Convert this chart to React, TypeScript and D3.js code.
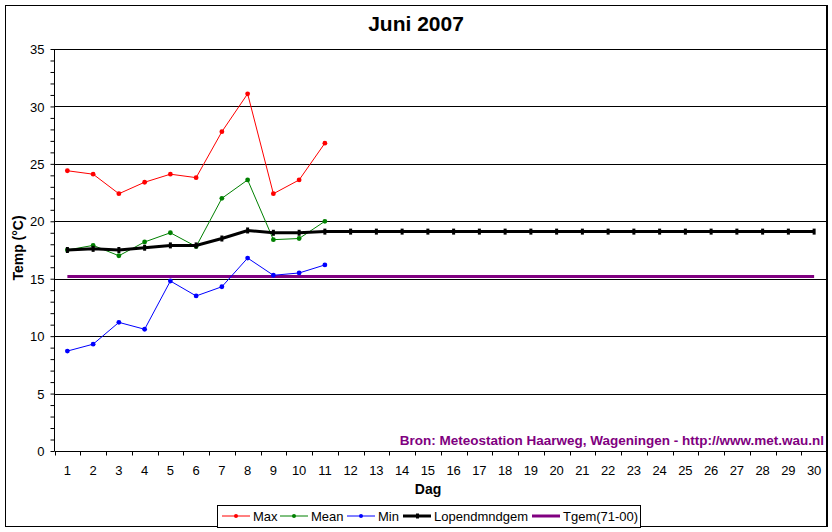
import { useEffect, useRef } from "react"
import * as d3 from "d3"

// Dagen van de maand (x-as)
const days = [
  "1", "2", "3", "4", "5", "6", "7", "8", "9", "10",
  "11", "12", "13", "14", "15", "16", "17", "18", "19", "20",
  "21", "22", "23", "24", "25", "26", "27", "28", "29", "30",
]

const yTicks = [0, 5, 10, 15, 20, 25, 30, 35]

// Gemeten waarden (dag 1 t/m 11)
const maxTemp = [24.4, 24.1, 22.4, 23.4, 24.1, 23.8, 27.8, 31.1, 22.4, 23.6, 26.8]
const meanTemp = [17.5, 17.9, 17.0, 18.2, 19.0, 17.8, 22.0, 23.6, 18.4, 18.5, 20.0]
const minTemp = [8.7, 9.3, 11.2, 10.6, 14.8, 13.5, 14.3, 16.8, 15.3, 15.5, 16.2]

// Lopend maandgemiddelde (hele maand)
const lopendGem = [
  17.5, 17.6, 17.5, 17.7, 17.9, 17.9, 18.5, 19.2, 19.0, 19.0,
  19.1, 19.1, 19.1, 19.1, 19.1, 19.1, 19.1, 19.1, 19.1, 19.1,
  19.1, 19.1, 19.1, 19.1, 19.1, 19.1, 19.1, 19.1, 19.1, 19.1,
]

// Normaal 1971-2000
const tgem = [
  15.2, 15.2, 15.2, 15.2, 15.2, 15.2, 15.2, 15.2, 15.2, 15.2,
  15.2, 15.2, 15.2, 15.2, 15.2, 15.2, 15.2, 15.2, 15.2, 15.2,
  15.2, 15.2, 15.2, 15.2, 15.2, 15.2, 15.2, 15.2, 15.2, 15.2,
]

const series = [
  { name: "Max", values: maxTemp, color: "#ff0000", width: 1, marker: "dot" },
  { name: "Mean", values: meanTemp, color: "#008000", width: 1, marker: "dot" },
  { name: "Min", values: minTemp, color: "#0000ff", width: 1, marker: "dot" },
  { name: "Lopendmndgem", values: lopendGem, color: "#000000", width: 3, marker: "bar" },
  { name: "Tgem(71-00)", values: tgem, color: "#800080", width: 3, marker: "none" },
]

const FONT = "Arial, 'Liberation Sans', sans-serif"

export default function App() {
  const svgRef = useRef<SVGSVGElement>(null)

  useEffect(() => {
    if (!svgRef.current) return
    const root = d3.select(svgRef.current)
    root.selectAll("*").remove()

    const W = 832
    const H = 532
    const plot = { left: 54.5, top: 49, right: 827, bottom: 451 }

    root.append("rect").attr("width", W).attr("height", H).attr("fill", "#ffffff")

    // chart border
    root
      .append("rect")
      .attr("x", 5.5)
      .attr("y", 5.5)
      .attr("width", 821)
      .attr("height", 521)
      .attr("fill", "none")
      .attr("stroke", "#000")
      .attr("stroke-width", 1)

    const x = d3.scaleBand().domain(days).range([plot.left, plot.right]).padding(0)
    const y = d3.scaleLinear().domain([0, 35]).range([plot.bottom, plot.top])

    const g = root.append("g")

    // gridlines
    g.selectAll(".grid")
      .data(yTicks.filter((t) => t > 0))
      .enter()
      .append("line")
      .attr("x1", plot.left)
      .attr("x2", plot.right)
      .attr("y1", (d) => Math.round(y(d)) + 0.5)
      .attr("y2", (d) => Math.round(y(d)) + 0.5)
      .attr("stroke", "#000")
      .attr("stroke-width", 1)

    // right edge of plot area
    g.append("line")
      .attr("x1", plot.right)
      .attr("x2", plot.right)
      .attr("y1", 5)
      .attr("y2", 527)
      .attr("stroke", "#000")
      .attr("stroke-width", 2)

    // y axis
    const yAxis = d3
      .axisLeft(y)
      .tickValues(d3.range(0, 36, 1))
      .tickSize(4)
      .tickFormat((d) => (yTicks.includes(d as number) ? String(d) : ""))
    const ya = g.append("g").attr("transform", `translate(${plot.left},0)`).call(yAxis)
    ya.select(".domain").attr("stroke", "#000").attr("d", `M0,${plot.top}V${plot.bottom}`)
    ya.selectAll(".tick line").attr("stroke", "#000")
    ya.selectAll(".tick text")
      .attr("x", -10)
      .attr("dy", "0.36em")
      .style("font-family", FONT)
      .style("font-size", "13px")
      .attr("fill", "#000")

    // x axis
    const xa = g.append("g").attr("transform", `translate(0,${plot.bottom + 0.5})`)
    xa.append("line")
      .attr("x1", plot.left)
      .attr("x2", plot.right)
      .attr("stroke", "#000")
    xa.selectAll(".xtick")
      .data(days)
      .enter()
      .append("line")
      .attr("x1", (d) => Math.round(x(d) as number) + 0.5)
      .attr("x2", (d) => Math.round(x(d) as number) + 0.5)
      .attr("y1", 0)
      .attr("y2", 4)
      .attr("stroke", "#000")
    xa.selectAll(".xlabel")
      .data(days)
      .enter()
      .append("text")
      .attr("x", (d) => (x(d) as number) + x.bandwidth() / 2)
      .attr("y", 23)
      .attr("text-anchor", "middle")
      .style("font-family", FONT)
      .style("font-size", "13px")
      .text((d) => d)

    const cx = (i: number) => (x(days[i]) as number) + x.bandwidth() / 2

    // series
    const line = d3
      .line<number>()
      .x((_, i) => cx(i))
      .y((d) => y(d))

    const drawOrder = [4, 0, 1, 2, 3]
    drawOrder.forEach((si) => {
      const s = series[si]
      g.append("path")
        .datum(s.values)
        .attr("d", line)
        .attr("fill", "none")
        .attr("stroke", s.color)
        .attr("stroke-width", s.width)
      if (s.marker === "dot") {
        g.selectAll(`.m${si}`)
          .data(s.values)
          .enter()
          .append("circle")
          .attr("cx", (_, i) => cx(i))
          .attr("cy", (d) => y(d))
          .attr("r", 2.4)
          .attr("fill", s.color)
      } else if (s.marker === "bar") {
        g.selectAll(`.m${si}`)
          .data(s.values)
          .enter()
          .append("rect")
          .attr("x", (_, i) => cx(i) - 1.5)
          .attr("y", (d) => y(d) - 3)
          .attr("width", 3)
          .attr("height", 6)
          .attr("fill", s.color)
      }
    })

    // title
    root
      .append("text")
      .attr("x", 416)
      .attr("y", 31)
      .attr("text-anchor", "middle")
      .style("font-family", FONT)
      .style("font-size", "21px")
      .style("font-weight", "bold")
      .text("Juni 2007")

    // axis titles
    root
      .append("text")
      .attr("transform", "translate(23,248) rotate(-90)")
      .attr("text-anchor", "middle")
      .style("font-family", FONT)
      .style("font-size", "14px")
      .style("font-weight", "bold")
      .text("Temp (°C)")

    root
      .append("text")
      .attr("x", 428)
      .attr("y", 494)
      .attr("text-anchor", "middle")
      .style("font-family", FONT)
      .style("font-size", "14px")
      .style("font-weight", "bold")
      .text("Dag")

    // bron
    root
      .append("text")
      .attr("x", 824)
      .attr("y", 445)
      .attr("text-anchor", "end")
      .attr("fill", "#800080")
      .style("font-family", FONT)
      .style("font-size", "13.5px")
      .style("font-weight", "bold")
      .text("Bron: Meteostation Haarweg, Wageningen - http://www.met.wau.nl")

    // legend
    const lg = root.append("g")
    lg.append("rect")
      .attr("x", 217.5)
      .attr("y", 505.5)
      .attr("width", 423)
      .attr("height", 22)
      .attr("fill", "#fff")
      .attr("stroke", "#000")
    const legendX = [222, 280, 347, 403, 532]
    const ly = 516
    series.forEach((s, i) => {
      const lx = legendX[i]
      lg.append("line")
        .attr("x1", lx)
        .attr("x2", lx + 28)
        .attr("y1", ly)
        .attr("y2", ly)
        .attr("stroke", s.color)
        .attr("stroke-width", s.width)
      if (s.marker === "dot") {
        lg.append("circle")
          .attr("cx", lx + 14)
          .attr("cy", ly)
          .attr("r", 2)
          .attr("fill", s.color)
      } else if (s.marker === "bar") {
        lg.append("rect")
          .attr("x", lx + 13)
          .attr("y", ly - 2.5)
          .attr("width", 3)
          .attr("height", 5)
          .attr("fill", s.color)
      }
      lg.append("text")
        .attr("x", lx + 31)
        .attr("y", ly + 5)
        .style("font-family", FONT)
        .style("font-size", "13px")
        .text(s.name)
    })
  }, [])

  return (
    <svg
      ref={svgRef}
      width={832}
      height={532}
      style={{ position: "absolute", left: 0, top: 0, display: "block" }}
    />
  )
}
